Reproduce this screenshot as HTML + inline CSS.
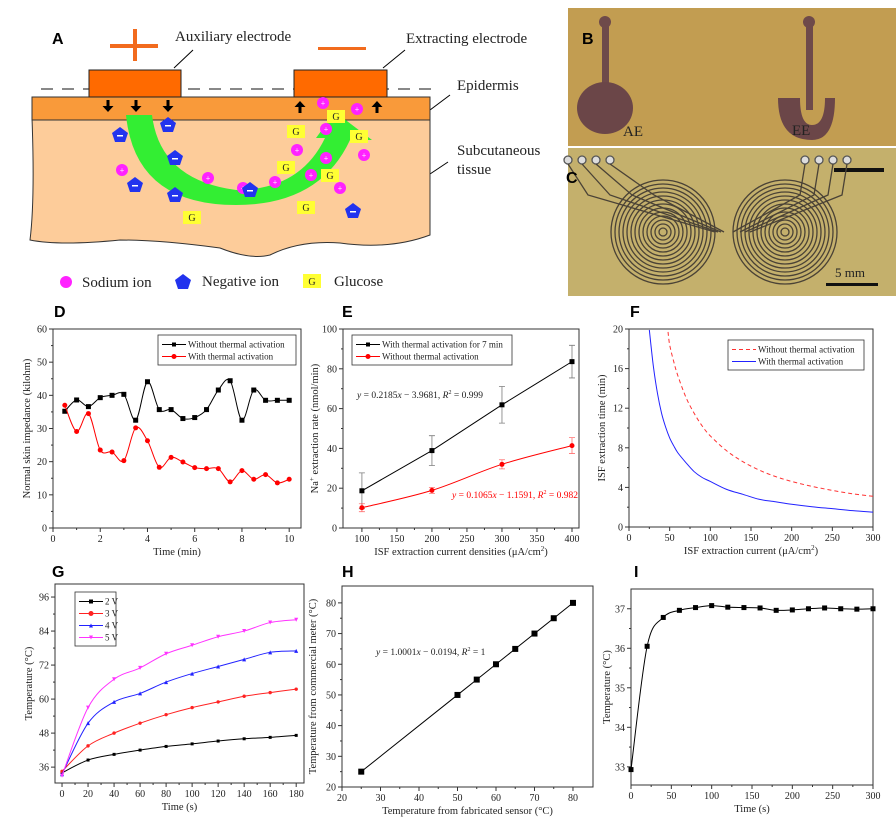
<!DOCTYPE html>
<html><head><meta charset="utf-8"><style>
html,body{margin:0;padding:0;background:#fff}
svg{display:block}
text{font-family:"Liberation Serif",serif;fill:#222}
.lt{font-family:"Liberation Sans",sans-serif;font-weight:bold;font-size:16px;fill:#000}
</style></head><body>
<svg id="fig" xmlns="http://www.w3.org/2000/svg" width="896" height="828" viewBox="0 0 896 828">
<g>
<text class="lt" x="52" y="44">A</text>
<rect x="110" y="44" width="48" height="4" fill="#f26b1d"/>
<rect x="133" y="29" width="4" height="32" fill="#f26b1d"/>
<rect x="318" y="47" width="48" height="3" fill="#f26b1d"/>
<text x="175" y="41" font-size="15">Auxiliary electrode</text>
<text x="406" y="43" font-size="15">Extracting electrode</text>
<text x="457" y="90" font-size="15">Epidermis</text>
<text x="457" y="155" font-size="15">Subcutaneous</text>
<text x="457" y="174" font-size="15">tissue</text>
<line x1="174" y1="68" x2="193" y2="50" stroke="#000"/>
<line x1="383" y1="68" x2="405" y2="50" stroke="#000"/>
<line x1="430" y1="110" x2="450" y2="95" stroke="#000"/>
<line x1="421" y1="180" x2="448" y2="162" stroke="#000"/>
<line x1="41" y1="89" x2="438" y2="89" stroke="#888" stroke-width="2" stroke-dasharray="12,9"/>
<path d="M32 118 L430 118 L430 235 Q390 250 340 243 Q300 240 270 255 Q250 260 220 248 Q160 240 120 240 Q60 246 30 240 Q35 200 32 118 Z" fill="#fdcc9a" stroke="#333" stroke-width="1"/>
<rect x="32" y="97" width="398" height="23" fill="#f99a3a" stroke="#333"/>
<rect x="89" y="70" width="92" height="27" fill="#ff6a00" stroke="#222"/>
<rect x="294" y="70" width="93" height="27" fill="#ff6a00" stroke="#222"/>
<g fill="#000">
<path d="M106.5 100h3v6h4l-5.5 6l-5.5-6h4z"/>
<path d="M134.5 100h3v6h4l-5.5 6l-5.5-6h4z"/>
<path d="M166.5 100h3v6h4l-5.5 6l-5.5-6h4z"/>
<path d="M298.5 113h3v-6h4l-5.5-6l-5.5 6h4z"/>
<path d="M375.5 113h3v-6h4l-5.5-6l-5.5 6h4z"/>
</g>
<path d="M126 115 L152 115 Q160 180 236 190 Q300 190 325 138 L316 138 L335 112 L372 140 L350 140 Q320 205 236 205 Q135 205 126 115 Z" fill="#33ee33"/>
<g id="ions"></g>
<text x="82" y="287" font-size="15">Sodium ion</text>
<text x="202" y="286" font-size="15">Negative ion</text>
<text x="334" y="286" font-size="15">Glucose</text>
</g>
<g>
<rect x="568" y="8" width="328" height="138" fill="#c9a556"/>
<rect x="568" y="8" width="328" height="138" fill="#b8924a" opacity="0.4"/>
<rect x="602" y="20" width="7" height="68" fill="#6e4a4a"/>
<circle cx="605" cy="22" r="6" fill="#6e4a4a"/>
<ellipse cx="605" cy="108" rx="28" ry="26" fill="#6b4648"/>
<rect x="806" y="20" width="7" height="90" fill="#6e4a4a"/>
<circle cx="809" cy="22" r="6" fill="#6e4a4a"/>
<path d="M778 98 L800 98 Q800 125 812 125 Q825 125 825 98 L835 98 Q835 140 812 140 Q778 140 778 98Z" fill="#6b4648"/>
<text x="623" y="136" font-size="15" fill="#222">AE</text>
<text x="792" y="135" font-size="15" fill="#222">EE</text>
<text class="lt" x="582" y="44">B</text>
<text x="832" y="164" font-size="14" font-family="Liberation Sans">2 mm</text>
</g>
<g>
<rect x="568" y="148" width="328" height="148" fill="#c4b06c"/>
<rect x="834" y="168" width="50" height="4" fill="#111"/>
<g id="spirals" fill="none" stroke="#4a4236" stroke-width="1.3"></g>
<text class="lt" x="566" y="183">C</text>
<rect x="826" y="283" width="52" height="3" fill="#111"/>
<text x="835" y="277" font-size="13" font-family="Liberation Sans">5 mm</text>
</g>
<text class="lt" x="54" y="317">D</text>
<text class="lt" x="342" y="317">E</text>
<text class="lt" x="630" y="317">F</text>
<text class="lt" x="52" y="577">G</text>
<text class="lt" x="342" y="577">H</text>
<text class="lt" x="634" y="577">I</text>
<g id="charts"></g>
</svg>
<script>
// ---- Panel D data ----
const dTime=[0.5,1,1.5,2,2.5,3,3.5,4,4.5,5,5.5,6,6.5,7,7.5,8,8.5,9,9.5,10];
const dWithout=[35.2,38.6,36.6,39.3,40,40.3,32.5,44.1,35.7,35.7,33,33.3,35.7,41.6,44.4,32.5,41.6,38.5,38.5,38.5];
const dWith=[37,29.1,34.5,23.5,22.9,20.3,30.2,26.3,18.3,21.3,19.9,18.2,17.9,17.9,13.9,17.3,14.7,16.1,13.6,14.7];
const dXTicks=[0,2,4,6,8,10];
const dYTicks=[0,10,20,30,40,50,60];
// ---- Panel E data ----
const eCurrent=[100,200,300,400];
const eWith=[18.7,38.9,61.9,83.6];
const eWithErr=[9,7.5,9.2,8.2];
const eWithout=[10.2,18.9,32,41.4];
const eWithoutErr=[2,1.5,2.3,4];
const eXTicks=[100,150,200,250,300,350,400];
const eYTicks=[0,20,40,60,80,100];
// ---- Panel F data ----
const fCurrent=[25,30,35,40,45,50,55,60,70,80,90,100,120,140,160,180,200,225,250,275,300];
const fWith=[19.9,16.2,13.5,11.5,10.1,9.0,8.2,7.5,6.5,5.6,5.0,4.6,3.8,3.3,2.8,2.55,2.3,2.05,1.85,1.65,1.5];
const fWithoutX=[48,50,55,60,70,80,90,100,120,140,160,180,200,225,250,275,300];
const fWithout=[19.7,18.4,16.7,15.3,13.1,11.5,10.2,9.2,7.7,6.6,5.75,5.1,4.6,4.1,3.7,3.35,3.1];
const fXTicks=[0,50,100,150,200,250,300];
const fYTicks=[0,4,8,12,16,20];
// ---- Panel G data ----
const gTime=[0,20,40,60,80,100,120,140,160,180];
const g2V=[34,38.5,40.5,42,43.3,44.2,45.2,46,46.5,47.2];
const g3V=[34.5,43.5,48,51.5,54.5,57,59,61,62.3,63.5];
const g4V=[33.5,51.5,59,62,66,69,71.5,74,76.5,77];
const g5V=[33,57,67,71,76,79,82,84,87,88];
const gXTicks=[0,20,40,60,80,100,120,140,160,180];
const gYTicks=[36,48,60,72,84,96];
// ---- Panel H data ----
const hSensor=[25,50,55,60,65,70,75,80];
const hMeter=[25,50,55,60,65,70,75,80];
const hXTicks=[20,30,40,50,60,70,80];
const hYTicks=[20,30,40,50,60,70,80];
// ---- Panel I data ----
const iTime=[0,20,40,60,80,100,120,140,160,180,200,220,240,260,280,300];
const iTemp=[32.93,36.05,36.78,36.96,37.03,37.08,37.04,37.03,37.02,36.96,36.97,37.0,37.02,37.0,36.99,37.0];
const iXTicks=[0,50,100,150,200,250,300];
const iYTicks=[33,34,35,36,37];

const NS="http://www.w3.org/2000/svg";
const root=document.getElementById('charts');
function mk(tag,attrs,parent){const e=document.createElementNS(NS,tag);for(const k in attrs)e.setAttribute(k,attrs[k]);(parent||root).appendChild(e);return e;}
function smooth(pts){
  if(pts.length<3)return 'M'+pts.map(p=>p.join(',')).join('L');
  let d='M'+pts[0][0]+','+pts[0][1];
  for(let i=0;i<pts.length-1;i++){
    const p0=pts[Math.max(0,i-1)],p1=pts[i],p2=pts[i+1],p3=pts[Math.min(pts.length-1,i+2)];
    const c1=[p1[0]+(p2[0]-p0[0])/6,p1[1]+(p2[1]-p0[1])/6],c2=[p2[0]-(p3[0]-p1[0])/6,p2[1]-(p3[1]-p1[1])/6];
    d+='C'+c1.join(',')+' '+c2.join(',')+' '+p2.join(',');
  }
  return d;
}
function axes(c){
  const g=mk('g',{});
  
  
  const sx=v=>c.L+(v-c.xmin)/(c.xmax-c.xmin)*(c.R-c.L);
  const sy=v=>c.B-(v-c.ymin)/(c.ymax-c.ymin)*(c.B-c.T);
  const box=mk('rect',{x:c.L,y:c.T,width:c.R-c.L,height:c.B-c.T,fill:'none',stroke:'#333','stroke-width':1},g);
  
  
  c.xt.forEach((v,i)=>{
    const x=sx(v);mk('line',{x1:x,y1:c.B,x2:x,y2:c.B+4,stroke:'#333'},g);
    if(i<c.xt.length-1){const xm=sx((v+c.xt[i+1])/2);mk('line',{x1:xm,y1:c.B,x2:xm,y2:c.B+2,stroke:'#333'},g);}
    const t=mk('text',{x:x,y:c.B+14,'font-size':10,'text-anchor':'middle'},g);t.textContent=v;
    
    
  });
  c.yt.forEach((v,i)=>{
    const y=sy(v);mk('line',{x1:c.L-4,y1:y,x2:c.L,y2:y,stroke:'#333'},g);
    if(i<c.yt.length-1){const ym=sy((v+c.yt[i+1])/2);mk('line',{x1:c.L-2,y1:ym,x2:c.L,y2:ym,stroke:'#333'},g);}
    const t=mk('text',{x:c.L-6,y:y+3.5,'font-size':10,'text-anchor':'end'},g);t.textContent=v;
    
    
  });
  const xt=mk('text',{x:(c.L+c.R)/2,y:c.B+27,'font-size':10.5,'text-anchor':'middle'},g);xt.innerHTML=c.xl;
  
  
  const yx=c.ylx||c.L-26;
  const yt=mk('text',{x:0,y:0,'font-size':10.5,'text-anchor':'middle',transform:`translate(${yx},${(c.T+c.B)/2}) rotate(-90)`},g);yt.innerHTML=c.yl;
  
  
  return {sx,sy,g};
}
function marker(g,type,x,y,s,color){
  if(type==='sq')return mk('rect',{x:x-s,y:y-s,width:2*s,height:2*s,fill:color},g);
  if(type==='ci')return mk('circle',{cx:x,cy:y,r:s+0.5,fill:color},g);
  if(type==='tu')return mk('path',{d:`M${x},${y-s}L${x+s},${y+s}L${x-s},${y+s}Z`,fill:color},g);
  return mk('path',{d:`M${x},${y+s}L${x+s},${y-s}L${x-s},${y-s}Z`,fill:color},g);
}
function series(ax,xs,ys,color,mtype,name,opts){
  opts=opts||{};
  const pts=xs.map((x,i)=>[ax.sx(x),ax.sy(ys[i])]);
  const p=mk('path',{d:opts.straight?'M'+pts.map(q=>q.join(',')).join('L'):smooth(pts),fill:'none',stroke:color,'stroke-width':opts.w||1,'stroke-dasharray':opts.dash||'none'},ax.g);
  
  
  if(mtype)pts.forEach(q=>{
    const m=marker(ax.g,mtype,q[0],q[1],opts.ms||2.5,color);
    
    
  });
}
function legend(ax,x,y,w,items,fs){
  const h=items.length*(fs+3)+6;
  const r=mk('rect',{x:x,y:y,width:w,height:h,fill:'#fff',stroke:'#333','stroke-width':0.8},ax.g);
  
  
  items.forEach((it,i)=>{
    const yy=y+5+i*(fs+3)+fs/2;
    mk('line',{x1:x+4,y1:yy,x2:x+28,y2:yy,stroke:it.c,'stroke-dasharray':it.dash||'none'},ax.g);
    if(it.m)marker(ax.g,it.m,x+16,yy,2,it.c);
    const t=mk('text',{x:x+30,y:yy+fs/2-1.5,'font-size':fs},ax.g);t.textContent=it.t;
    
    
  });
}
// D
let D=axes({name:'chart-d',L:53,R:301,T:329,B:528,xmin:0,xmax:10.5,ymin:0,ymax:60,xt:dXTicks,yt:dYTicks,xl:'Time (min)',yl:'Normal skin impedance (kilohm)',ylx:30});
series(D,dTime,dWithout,'#000','sq','d-without');
series(D,dTime,dWith,'#f00','ci','d-with',{ms:2});
legend(D,158,335,138,[{c:'#000',m:'sq',t:'Without thermal activation'},{c:'#f00',m:'ci',t:'With thermal activation'}],9);
// E
let E=axes({name:'chart-e',L:343,R:579,T:329,B:528,xmin:73,xmax:410,ymin:0,ymax:100,xt:eXTicks,yt:eYTicks,xl:'ISF extraction current densities (μA/cm<tspan font-size="7" dy="-4">2</tspan><tspan dy="4">)</tspan>',yl:'Na<tspan font-size="7" dy="-4">+</tspan><tspan dy="4"> extraction rate (nmol/min)</tspan>',ylx:318});
function errs(ax,xs,ys,es,c){xs.forEach((x,i)=>{const X=ax.sx(x),a=ax.sy(ys[i]+es[i]),b=ax.sy(ys[i]-es[i]);
 const l=mk('path',{d:`M${X},${a}L${X},${b}M${X-3},${a}L${X+3},${a}M${X-3},${b}L${X+3},${b}`,stroke:c,'stroke-width':0.8,fill:'none',opacity:0.7},ax.g);
 
 });}
errs(E,eCurrent,eWith,eWithErr,'#444');errs(E,eCurrent,eWithout,eWithoutErr,'#f33');
series(E,eCurrent,eWith,'#000','sq','e-with',{straight:true});
series(E,eCurrent,eWithout,'#f00','ci','e-without',{ms:2});
legend(E,352,335,160,[{c:'#000',m:'sq',t:'With thermal activation for 7 min'},{c:'#f00',m:'ci',t:'Without thermal activation'}],9);
let t1=mk('text',{x:357,y:398,'font-size':9.5});t1.innerHTML='<tspan font-style="italic">y</tspan> = 0.2185<tspan font-style="italic">x</tspan> − 3.9681, <tspan font-style="italic">R</tspan><tspan font-size="6" dy="-4">2</tspan><tspan dy="4"> = 0.999</tspan>';
let t2=mk('text',{x:452,y:498,'font-size':9.5,style:'fill:#f00'});t2.innerHTML='<tspan font-style="italic">y</tspan> = 0.1065<tspan font-style="italic">x</tspan> − 1.1591, <tspan font-style="italic">R</tspan><tspan font-size="6" dy="-4">2</tspan><tspan dy="4"> = 0.982</tspan>';
// F
let F=axes({name:'chart-f',L:629,R:873,T:329,B:527,xmin:0,xmax:300,ymin:0,ymax:20,xt:fXTicks,yt:fYTicks,xl:'ISF extraction current (μA/cm<tspan font-size="7" dy="-4">2</tspan><tspan dy="4">)</tspan>',yl:'ISF extraction time (min)',ylx:605});
series(F,fWithoutX,fWithout,'#f33',null,'f-without',{dash:'4,3'});
series(F,fCurrent,fWith,'#22f',null,'f-with');
legend(F,728,340,136,[{c:'#f33',dash:'4,3',t:'Without thermal activation'},{c:'#22f',t:'With thermal activation'}],9);
// G
let G=axes({name:'chart-g',L:55,R:304,T:584,B:783,xmin:-5.4,xmax:186,ymin:30.4,ymax:100.6,xt:gXTicks,yt:gYTicks,xl:'Time (s)',yl:'Temperature (°C)',ylx:32});
series(G,gTime,g2V,'#000','sq','g-2v',{ms:1.5});
series(G,gTime,g3V,'#f22','ci','g-3v',{ms:1.2});
series(G,gTime,g4V,'#22f','tu','g-4v',{ms:2});
series(G,gTime,g5V,'#f3f','td','g-5v',{ms:2});
legend(G,75,592,41,[{c:'#000',m:'sq',t:'2 V'},{c:'#f22',m:'ci',t:'3 V'},{c:'#22f',m:'tu',t:'4 V'},{c:'#f3f',m:'td',t:'5 V'}],9);
// H
let H=axes({name:'chart-h',L:342,R:593,T:586,B:787,xmin:20,xmax:85.2,ymin:20,ymax:85.5,xt:hXTicks,yt:hYTicks,xl:'Temperature from fabricated sensor (°C)',yl:'Temperature from commercial meter (°C)',ylx:316});
series(H,hSensor,hMeter,'#000','sq','h-calibration',{straight:true,ms:3});
let t3=mk('text',{x:376,y:655,'font-size':9.5});t3.innerHTML='<tspan font-style="italic">y</tspan> = 1.0001<tspan font-style="italic">x</tspan> − 0.0194, <tspan font-style="italic">R</tspan><tspan font-size="6" dy="-4">2</tspan><tspan dy="4"> = 1</tspan>';
// I
let I=axes({name:'chart-i',L:631,R:873,T:589,B:785,xmin:0,xmax:300,ymin:32.54,ymax:37.5,xt:iXTicks,yt:iYTicks,xl:'Time (s)',yl:'Temperature (°C)',ylx:610});
series(I,iTime,iTemp,'#000','sq','i-temperature',{ms:2.5});

// Panel A ions
const ions=document.getElementById('ions');
[[323,103],[357,109],[326,129],[297,150],[326,158],[364,155],[311,175],[275,182],[340,188],[122,170],[208,178],[243,188]].forEach(p=>{
 const c=mk('circle',{cx:p[0],cy:p[1],r:6,fill:'#ff22ff'},ions);
 
 
 mk('text',{x:p[0],y:p[1]+3,'font-size':8,'text-anchor':'middle',style:'fill:#fff'},ions).textContent='+';});
[[120,135],[168,125],[175,158],[135,185],[175,195],[250,190],[353,211]].forEach(p=>{
 const q=mk('path',{d:`M${p[0]},${p[1]-8}L${p[0]+8},${p[1]-2}L${p[0]+5},${p[1]+7}L${p[0]-5},${p[1]+7}L${p[0]-8},${p[1]-2}Z`,fill:'#2233ee'},ions);
 
 
 mk('rect',{x:p[0]-3,y:p[1],width:6,height:1.5,fill:'#fff'},ions);});
[[336,116],[296,131],[359,136],[286,167],[330,175],[306,207],[192,217]].forEach(p=>{
 const r=mk('rect',{x:p[0]-9,y:p[1]-6,width:18,height:13,fill:'#ffff33'},ions);
 
 
 mk('text',{x:p[0],y:p[1]+4,'font-size':10,'text-anchor':'middle'},ions).textContent='G';});
mk('circle',{cx:66,cy:282,r:6,fill:'#ff22ff'},ions);
mk('path',{d:'M183,274L191,280L188,289L178,289L175,280Z',fill:'#2233ee'},ions);
mk('rect',{x:303,y:274,width:18,height:14,fill:'#ffff33'},ions);
mk('text',{x:312,y:285,'font-size':10,'text-anchor':'middle'},ions).textContent='G';
// Panel C spirals
const sp=document.getElementById('spirals');
[[663,232],[785,232]].forEach(c=>{for(let r=4;r<=52;r+=4)mk('circle',{cx:c[0],cy:c[1],r:r},sp);});
[[568,160],[582,160],[596,160],[610,160],[805,160],[819,160],[833,160],[847,160]].forEach((p,i)=>{
 mk('circle',{cx:p[0],cy:p[1],r:4,fill:'#ddd',stroke:'#555'},sp);
 const tx=i<4?715+i*3:(i===4?733:735+(i-4)*5);
 mk('path',{d:`M${p[0]},${p[1]+4} L${i<4?p[0]+20+i*8:p[0]-5}, ${195} L${tx},232`},sp);});
</script>
</body></html>
